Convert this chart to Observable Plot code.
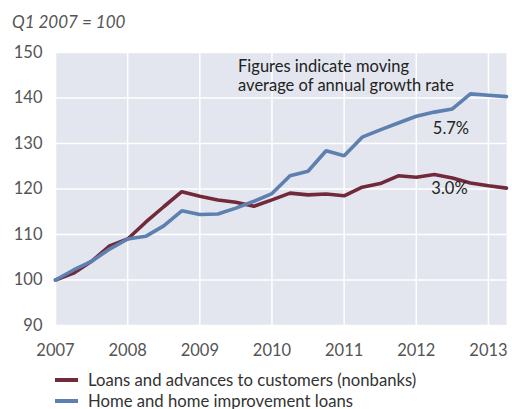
<!DOCTYPE html>
<html>
<head>
<meta charset="utf-8">
<script src="https://cdn.jsdelivr.net/npm/d3@7"></script>
<script src="https://cdn.jsdelivr.net/npm/@observablehq/plot@0.6"></script>
<style>
  body { margin: 0; background: #fff; font-family: Lato, "Open Sans", sans-serif; }
  #wrap { position: relative; width: 512px; height: 409px; overflow: hidden; }
  #subtitle { height: 40px; box-sizing: border-box; padding: 12px 0 0 12px; font-style: italic; font-size: 17px; color: #555; line-height: 20px; }
  #legend { position: absolute; left: 55px; top: 369px; font-size: 16.7px; color: #333; }
  .row { display: flex; align-items: center; height: 21px; }
  .sw { width: 23px; height: 4px; margin-right: 10px; }
  svg { display: block; }
</style>
</head>
<body>
<div id="wrap">
  <div id="subtitle">Q1 2007 = 100</div>
  <div id="chart"></div>
  <div id="legend"></div>
</div>
<script>
const quarters = [2007.00, 2007.25, 2007.50, 2007.75, 2008.00, 2008.25, 2008.50, 2008.75,
                  2009.00, 2009.25, 2009.50, 2009.75, 2010.00, 2010.25, 2010.50, 2010.75,
                  2011.00, 2011.25, 2011.50, 2011.75, 2012.00, 2012.25, 2012.50, 2012.75,
                  2013.00, 2013.25];
const loans = [100, 101.5, 104.1, 107.5, 109.0, 112.7, 116.1, 119.4,
               118.4, 117.6, 117.1, 116.2, 117.6, 119.1, 118.7, 118.9,
               118.5, 120.4, 121.2, 122.9, 122.6, 123.2, 122.4, 121.3,
               120.7, 120.2];
const home = [100, 102.2, 104.1, 106.8, 109.0, 109.6, 111.9, 115.2,
              114.4, 114.5, 115.8, 117.3, 119.0, 122.9, 123.9, 128.4,
              127.3, 131.4, 133.0, 134.5, 136.0, 136.9, 137.6, 140.9,
              140.6, 140.3];
const seriesNames = ["Loans and advances to customers (nonbanks)", "Home and home improvement loans"];
const seriesColors = ["#722a3a", "#5d80b0"];
const xTicks = [2007, 2008, 2009, 2010, 2011, 2012, 2013];
const yTicks = [90, 100, 110, 120, 130, 140, 150];
const labels = [
  {text: "5.7%", x: 2012.48, y: 133.3},
  {text: "3.0%", x: 2012.46, y: 120.1}
];
const note = "Figures indicate moving\naverage of annual growth rate";

const data = [];
quarters.forEach((q, i) => {
  data.push({q, v: loans[i], s: seriesNames[0]});
  data.push({q, v: home[i], s: seriesNames[1]});
});

const chart = Plot.plot({
  width: 512,
  height: 325,
  marginTop: 12,
  marginLeft: 55,
  marginRight: 6,
  marginBottom: 40,
  style: {fontFamily: "Lato, 'Open Sans', sans-serif", fontSize: "16.5px", color: "#555", background: "#fff"},
  x: {domain: [2007, 2013.25], ticks: xTicks, tickFormat: d => String(d), tickSize: 0, tickPadding: 19, label: null},
  y: {domain: [90, 150], ticks: yTicks, tickSize: 0, tickPadding: 13, label: null},
  color: {domain: seriesNames, range: seriesColors},
  marks: [
    Plot.frame({fill: "#e3e6ee", stroke: null}),
    Plot.gridX(xTicks, {stroke: "#fff", strokeOpacity: 1, strokeWidth: 1.5}),
    Plot.gridY(yTicks, {stroke: "#fff", strokeOpacity: 1, strokeWidth: 1.5}),
    Plot.line(data, {x: "q", y: "v", z: "s", stroke: "s", strokeWidth: 3.6, strokeLinejoin: "miter"}),
    Plot.text(labels, {x: "x", y: "y", text: "text", fontSize: 16.5, fill: "#222"}),
    Plot.text([note], {x: 2009.53, y: 144.9, text: d => d, textAnchor: "start", lineHeight: 1.15, fontSize: 16.5, fill: "#222"})
  ]
});
document.getElementById("chart").appendChild(chart);

const legend = document.getElementById("legend");
seriesNames.forEach((n, i) => {
  const row = document.createElement("div");
  row.className = "row";
  row.innerHTML = `<div class="sw" style="background:${seriesColors[i]}"></div><span>${n}</span>`;
  legend.appendChild(row);
});
</script>
</body>
</html>
